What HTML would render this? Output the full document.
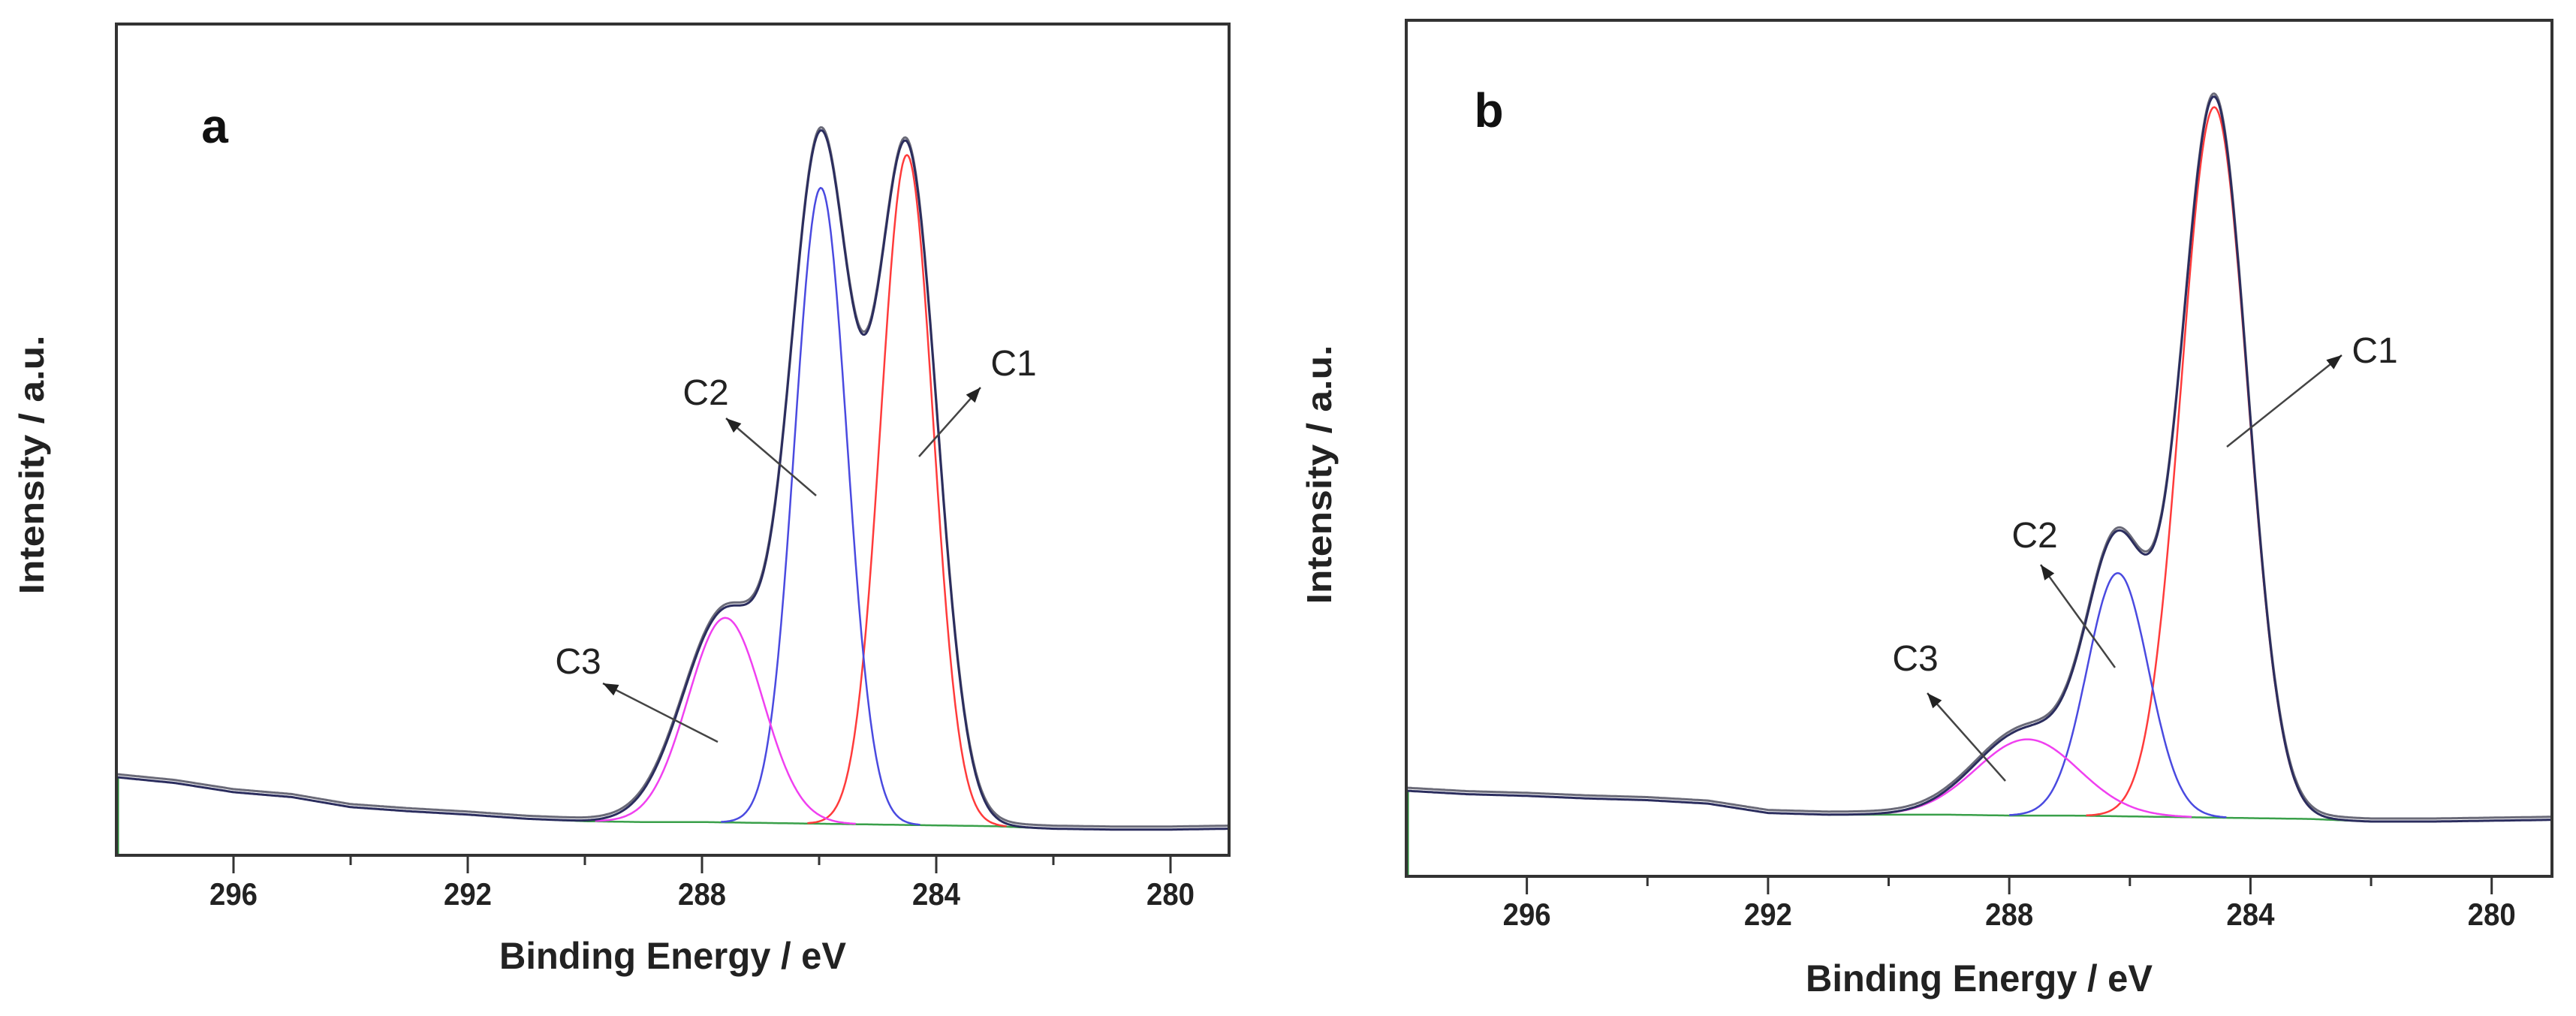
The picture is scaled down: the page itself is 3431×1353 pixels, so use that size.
<!DOCTYPE html>
<html><head><meta charset="utf-8"><style>
html,body{margin:0;padding:0;background:#fff;}
svg{display:block;}
text{font-family:"Liberation Sans",sans-serif;}
</style></head><body>
<svg id="fig" width="3431" height="1353" viewBox="0 0 3431 1353" xmlns="http://www.w3.org/2000/svg">
<rect width="3431" height="1353" fill="#fff"/>
</svg>
<script>
// shared axis range (binding energy, eV)
const energyRange = [298, 279];
const xTicksMajor = [296, 292, 288, 284, 280];
const xTicksMinor = [294, 290, 286, 282];
const bgEnergies = [298,297,296,295,294,293,292,291,290,289,288,287,286,285,284,283,282,281,280,279];
// panel a
const bgA = [94,87,76,70,58,53,49,44,41,40,40,39,38,37,36,35,32,31,31,32];
const peaksA_center = [284.5, 285.97, 287.6];
const peaksA_height = [806, 765, 246];
const peaksA_fwhm = [1.05, 1.05, 1.5];
const envA_height = [808, 800, 253];
const envA_fwhm = [1.22, 1.22, 1.7];
// panel b
const bgB = [100,96,94,91,89,85,74,72,72,72,71,71,70,69,68,67,64,64,65,66];
const peaksB_center = [284.6, 286.2, 287.7];
const peaksB_height = [830, 284, 89];
const peaksB_fwhm = [1.3, 1.2, 2.0];
const envB_height = [840, 300, 100];
const envB_fwhm = [1.3, 1.2, 2.0];
const peakNames = ['C1','C2','C3'];
const peakColors = ['#ff3b3b','#4a4ae0','#f040f0'];

const NS='http://www.w3.org/2000/svg';
const svg=document.getElementById('fig');
function mk(tag,attrs,parent){const e=document.createElementNS(NS,tag);for(const k in attrs)e.setAttribute(k,attrs[k]);(parent||svg).appendChild(e);return e;}

function bgAt(arr,e){
  for(let i=0;i<bgEnergies.length-1;i++){
    const e0=bgEnergies[i],e1=bgEnergies[i+1];
    if(e<=e0&&e>=e1){const t=(e0-e)/(e0-e1);return arr[i]+(arr[i+1]-arr[i])*t;}
  }
  return arr[arr.length-1];
}
function gauss(e,c,h,f){const s=f/2.3548;return h*Math.exp(-((e-c)*(e-c))/(2*s*s));}

function panel(cfg){
  const g=mk('g',{});
  
  
  const L=cfg.L,R=cfg.R,T=cfg.T,B=cfg.B;
  const xs=e=>L+(energyRange[0]-e)/(energyRange[0]-energyRange[1])*(R-L);
  const ys=v=>B-v/1000*(B-T);
  const es=[];for(let e=energyRange[0];e>=energyRange[1]-0.001;e-=0.025)es.push(e);
  const line=(pts,color,w,nm)=>{
    const p=mk('path',{d:'M'+pts.map(q=>q[0].toFixed(1)+','+q[1].toFixed(1)).join('L'),fill:'none',stroke:color,'stroke-width':w,'stroke-linejoin':'round'},g);
    
    
  };
  const gb=es.filter(e=>e<=291&&e>=281.5).map(e=>[xs(e),ys(bgAt(cfg.bg,e))]);
  line(gb,'#3aa04a',2.5,'baseline');
  mk('line',{x1:L+2,y1:ys(cfg.bg[0]),x2:L+2,y2:B,stroke:'#2a8a3a','stroke-width':3},g);
  for(let k=0;k<3;k++){
    const pts=[];
    es.forEach(e=>{const v=gauss(e,cfg.c[k],cfg.h[k],cfg.f[k]);if(v>0.5)pts.push([xs(e),ys(bgAt(cfg.bg,e)+v)]);});
    line(pts,peakColors[k],2.5,'component-'+peakNames[k].toLowerCase());
  }
  const env=es.map(e=>{let v=bgAt(cfg.bg,e);for(let k=0;k<3;k++)v+=gauss(e,cfg.c[k],cfg.eh[k],cfg.ef[k]);return [xs(e),ys(v)];});
  line(env.map(p=>[p[0],p[1]-4]),'#6a6a78',3,'raw-spectrum');
  line(env,'#2b2d5e',3,'fit-envelope');
  const fr=mk('rect',{x:L,y:T,width:R-L,height:B-T,fill:'none',stroke:'#333','stroke-width':4},g);
  
  
  xTicksMajor.forEach(t=>{
    mk('line',{x1:xs(t),y1:B,x2:xs(t),y2:B+24,stroke:'#333','stroke-width':3},g);
    const tx=mk('text',{x:xs(t),y:cfg.tickY,'text-anchor':'middle','font-size':42,'font-weight':'bold',fill:'#222',textLength:64,lengthAdjust:'spacingAndGlyphs'},g);
    tx.textContent=t;
    
    
  });
  xTicksMinor.forEach(t=>{mk('line',{x1:xs(t),y1:B,x2:xs(t),y2:B+13,stroke:'#333','stroke-width':3},g);});
  const xt=mk('text',{x:cfg.xtX,y:cfg.xtY,'text-anchor':'middle','font-size':50,'font-weight':'bold',fill:'#222',textLength:462,lengthAdjust:'spacingAndGlyphs'},g);
  xt.textContent='Binding Energy / eV';
  
  
  const yt=mk('text',{x:0,y:0,'text-anchor':'middle','font-size':46,'font-weight':'bold',fill:'#222',textLength:345,lengthAdjust:'spacingAndGlyphs',transform:`translate(${cfg.ytX},${cfg.ytY}) rotate(-90)`},g);
  yt.textContent='Intensity / a.u.';
  
  
  const lt=mk('text',{x:cfg.letter[0],y:cfg.letter[1]+22,'text-anchor':'middle','font-size':64,'font-weight':'bold',fill:'#111'},g);
  lt.textContent=cfg.letterText;
  
  
  cfg.ann.forEach((a,k)=>{
    const t=mk('text',{x:a.t[0],y:a.t[1]+17,'text-anchor':'middle','font-size':48,fill:'#222'},g);
    t.textContent=peakNames[k];
    
    
    const [x1,y1]=a.a0,[x2,y2]=a.a1;
    const ar=mk('line',{x1,y1,x2,y2,stroke:'#444','stroke-width':2.5},g);
    
    
    const ang=Math.atan2(y2-y1,x2-x1),hl=20,hw=8;
    const bx=x2-hl*Math.cos(ang),by=y2-hl*Math.sin(ang);
    mk('polygon',{points:`${x2},${y2} ${bx+hw*Math.sin(ang)},${by-hw*Math.cos(ang)} ${bx-hw*Math.sin(ang)},${by+hw*Math.cos(ang)}`,fill:'#222'},g);
  });
}
panel({name:'panel-a',L:155,R:1637,T:32,B:1139,bg:bgA,c:peaksA_center,h:peaksA_height,f:peaksA_fwhm,eh:envA_height,ef:envA_fwhm,
  tickY:1205,xtX:896,xtY:1290,ytX:58,ytY:619,letter:[286,168],letterText:'a',
  ann:[{t:[1350,483],a0:[1224,608],a1:[1306,516]},{t:[940,522],a0:[1087,660],a1:[967,557]},{t:[770,880],a0:[956,988],a1:[803,910]}]});
panel({name:'panel-b',L:1873,R:3399,T:27,B:1167,bg:bgB,c:peaksB_center,h:peaksB_height,f:peaksB_fwhm,eh:envB_height,ef:envB_fwhm,
  tickY:1232,xtX:2636,xtY:1320,ytX:1773,ytY:632,letter:[1983,147],letterText:'b',
  ann:[{t:[3163,466],a0:[2966,595],a1:[3119,473]},{t:[2710,712],a0:[2817,889],a1:[2718,752]},{t:[2551,876],a0:[2671,1040],a1:[2567,923]}]});
</script>
</body></html>
